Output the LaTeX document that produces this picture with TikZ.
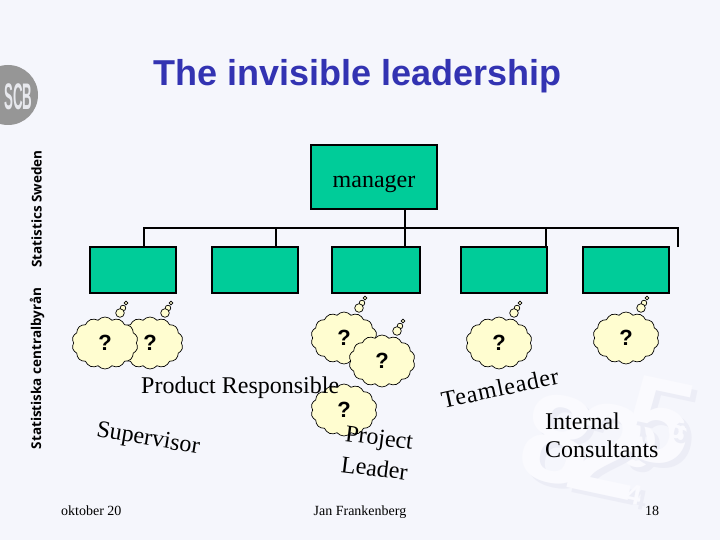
\documentclass[tikz,border=0pt]{standalone}
\usepackage{fontspec}
\usepackage{xcolor}
\usepackage{tikz}
\usetikzlibrary{shapes.symbols}
\setmainfont{Liberation Serif}
\newfontfamily\headfont{Liberation Sans}
\newfontfamily\sidefont{Open Sans}
\definecolor{slidebg}{RGB}{245,246,252}
\definecolor{titleblue}{RGB}{51,51,178}
\definecolor{boxgreen}{RGB}{0,204,153}
\definecolor{cloudfill}{RGB}{255,253,208}
\definecolor{logogray}{RGB}{150,150,150}
\definecolor{markshade}{RGB}{236,237,246}
\definecolor{marklight}{RGB}{250,250,254}
\tikzset{
  unitbox/.style={draw=black,fill=boxgreen,line width=2pt,minimum width=86pt,minimum height=46pt,inner sep=0pt},
  wire/.style={draw=black,line width=2pt},
  thoughtcloud/.style={cloud,cloud puffs=14,cloud puff arc=100,draw=black,fill=cloudfill,line width=0.7pt,minimum width=66pt,minimum height=52pt,inner sep=0pt,font=\headfont\bfseries\fontsize{22}{22}\selectfont},
  puff/.style={circle,draw=black,fill=cloudfill,line width=0.7pt,inner sep=0pt},
  rolelabel/.style={inner sep=0pt,font=\fontsize{24}{28}\selectfont},
  footlabel/.style={inner sep=0pt,font=\fontsize{14}{16}\selectfont},
  sidelabel/.style={inner sep=0pt,rotate=90,font=\sidefont\bfseries\fontsize{13.5}{14}\selectfont},
  markdigit/.style={inner sep=0pt,font=\headfont\bfseries}
}
\newcommand{\thought}[3]{
  \node[puff,minimum size=3.6pt] (#1c) at ({#2+21},{#3-40}) {};
  \node[puff,minimum size=5.6pt] (#1b) at ({#2+18},{#3-35}) {};
  \node[puff,minimum size=8.6pt] (#1a) at ({#2+15},{#3-30}) {};
  \node[thoughtcloud] (#1) at (#2,#3) {?};
}
\begin{document}
\begin{tikzpicture}[x=1pt,y=-1pt]
\fill[slidebg] (0,0) rectangle (720,540);
\useasboundingbox (0,0) rectangle (720,540);
\foreach \dig/\px/\py/\sz in {8/557/440/125,9/640/447/60,2/607/450/130,5/660/422/120,6/677/428/30,4/634/495/28}{
  \node[markdigit,text=markshade,rotate=-12,scale=\sz/10] (shade\dig) at (\px+5,\py+5) {\dig};
  \node[markdigit,text=marklight,rotate=-12,scale=\sz/10] (mark\dig) at (\px,\py) {\dig};
}
\fill[logogray] (8,95) circle (30);
\node[inner sep=0pt,text=slidebg!85!logogray,font=\headfont\bfseries\fontsize{37}{37}\selectfont,xscale=0.36] (scb) at (18.5,96.5) {SCB};
\node[sidelabel] (sweden) at (36.5,209) {Statistics Sweden};
\node[sidelabel] (sverige) at (37,368.5) {Statistiska centralbyrån};
\node[anchor=base,inner sep=0pt,text=titleblue,font=\headfont\bfseries\fontsize{36}{40}\selectfont] (title) at (357.5,86) {The invisible leadership};
\node[unitbox,minimum width=126pt,minimum height=64pt,font=\fontsize{24}{28}\selectfont] (boss) at (374,177) {\raisebox{-11pt}[0pt][0pt]{manager}};
\node[unitbox] (unita) at (133,270) {};
\node[unitbox] (unitb) at (255,270) {};
\node[unitbox,minimum width=88pt] (unitc) at (376,270) {};
\node[unitbox] (unitd) at (504,270) {};
\node[unitbox] (unite) at (626,270) {};
\coordinate (busa) at (144,228);
\coordinate (busb) at (276,228);
\coordinate (busc) at (405,228);
\coordinate (busd) at (546,228);
\coordinate (buse) at (678,228);
\coordinate (tail) at (678,247);
\draw[wire] (tail) -- (buse) -- (busa) -- (busa |- unita.north);
\draw[wire] (busb) -- (busb |- unitb.north);
\draw[wire] (busc |- boss.south) -- (busc |- unitc.north);
\draw[wire] (busd) -- (busd |- unitd.north);
\thought{qb}{150}{343}
\thought{qa}{105}{343}
\thought{qc}{344}{338}
\thought{qd}{382}{361}
\node[thoughtcloud] (qe) at (344,410) {?};
\thought{qf}{499}{343}
\thought{qg}{626}{338}
\node[rolelabel,anchor=base west] (product) at (141,393) {Product Responsible};
\node[rolelabel,rotate=-9.5] (supervisor) at (148,440) {Supervisor};
\node[rolelabel,rotate=-7] (project) at (379,440) {Project};
\node[rolelabel,rotate=-7] (leader) at (374.5,468) {Leader};
\node[rolelabel,rotate=12] (teamleader) at (500,388) {\addfontfeature{LetterSpace=3.5}Teamleader};
\node[rolelabel,anchor=north west,align=left] (consultants) at (545,413) {Internal\\Consultants};
\node[footlabel,anchor=base west] (date) at (61,515) {oktober 20};
\node[footlabel,anchor=base] (author) at (360,515) {Jan Frankenberg};
\node[footlabel,anchor=base] (page) at (652,515) {18};
\end{tikzpicture}
\end{document}
